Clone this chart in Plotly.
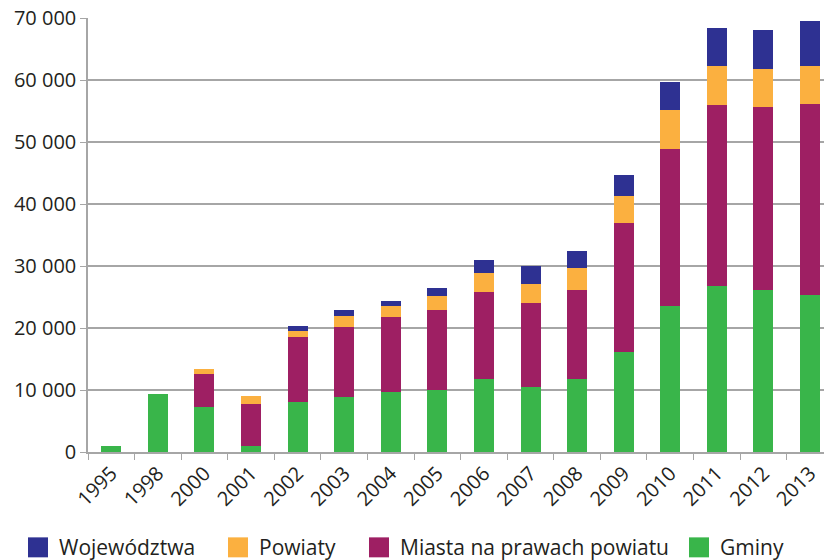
import plotly.graph_objects as go

years = ["1995", "1998", "2000", "2001", "2002", "2003", "2004", "2005",
         "2006", "2007", "2008", "2009", "2010", "2011", "2012", "2013"]
gminy = [1000, 9400, 7200, 900, 8000, 8950, 9750, 10050,
         11850, 10550, 11850, 16200, 23600, 26800, 26150, 25350]
miasta = [0, 0, 5450, 6900, 10600, 11250, 12050, 12900,
          14000, 13500, 14300, 20750, 25300, 29150, 29500, 30750]
powiaty = [0, 0, 800, 1300, 950, 1750, 1800, 2250,
           3050, 3050, 3550, 4350, 6300, 6300, 6100, 6100]
wojewodztwa = [0, 0, 0, 0, 800, 1000, 800, 1300,
               2100, 2900, 2750, 3400, 4500, 6100, 6300, 7250]

series_names = ["Gminy", "Miasta na prawach powiatu", "Powiaty", "Województwa"]
series_values = [gminy, miasta, powiaty, wojewodztwa]
series_colors = ["#39B54A", "#9E1F63", "#FBB040", "#2E3192"]

y_ticks = [0, 10000, 20000, 30000, 40000, 50000, 60000, 70000]
y_tick_labels = ["0", "10 000", "20 000", "30 000", "40 000", "50 000", "60 000", "70 000"]

FONT = "Open Sans"
TXT = "#231F20"
GRID = "#A6A6A6"

fig = go.Figure()
for name, vals, col in zip(series_names, series_values, series_colors):
    fig.add_trace(go.Bar(x=years, y=vals, name=name, marker_color=col,
                         marker_line_width=0, showlegend=False))

W, H = 824, 560
ml, mr, mt, mb = 88, 0, 17.8, 107.5
pw, ph = W - ml - mr, H - mt - mb

fig.update_layout(
    width=W, height=H,
    margin=dict(l=ml, r=mr, t=mt, b=mb, pad=0),
    barmode="stack", bargap=0.57,
    plot_bgcolor="white", paper_bgcolor="white",
    font=dict(family=FONT, size=20, color=TXT),
    xaxis=dict(type="category", range=[-0.5, 15.3], tickangle=-45,
               tickson="boundaries", ticks="outside", ticklen=6,
               tickcolor=GRID, tickwidth=1.3,
               showline=True, linecolor=GRID, linewidth=1.5,
               showgrid=False, tickfont=dict(size=20, color=TXT)),
    yaxis=dict(range=[0, 70000], tickvals=y_ticks, ticktext=y_tick_labels,
               ticks="outside", ticklen=6, tickcolor=GRID, tickwidth=1.3,
               showline=True, linecolor=GRID, linewidth=1.5,
               showgrid=True, gridcolor=GRID, gridwidth=1.5,
               zeroline=False, tickfont=dict(size=20, color=TXT)),
)

# Manual legend (larger squares like the reference)
legend_order = [3, 2, 1, 0]
legend_px = [28, 228, 369, 689]
sq = 20
ly_center = 548
for idx, px in zip(legend_order, legend_px):
    x0 = (px - ml) / pw
    x1 = (px + sq - ml) / pw
    y0 = (H - mb - (ly_center + sq / 2)) / ph
    y1 = (H - mb - (ly_center - sq / 2)) / ph
    fig.add_shape(type="rect", xref="paper", yref="paper",
                  x0=x0, x1=x1, y0=y0, y1=y1,
                  fillcolor=series_colors[idx], line_width=0)
    fig.add_annotation(xref="paper", yref="paper",
                       x=(px + sq + 9 - ml) / pw,
                       y=(H - mb - ly_center) / ph,
                       text=series_names[idx], showarrow=False,
                       xanchor="left", yanchor="middle",
                       font=dict(family=FONT, size=21, color=TXT))

fig.write_html("out.html", config={"displayModeBar": False},
               post_script="document.body.style.margin='0';document.body.style.overflow='hidden';")
